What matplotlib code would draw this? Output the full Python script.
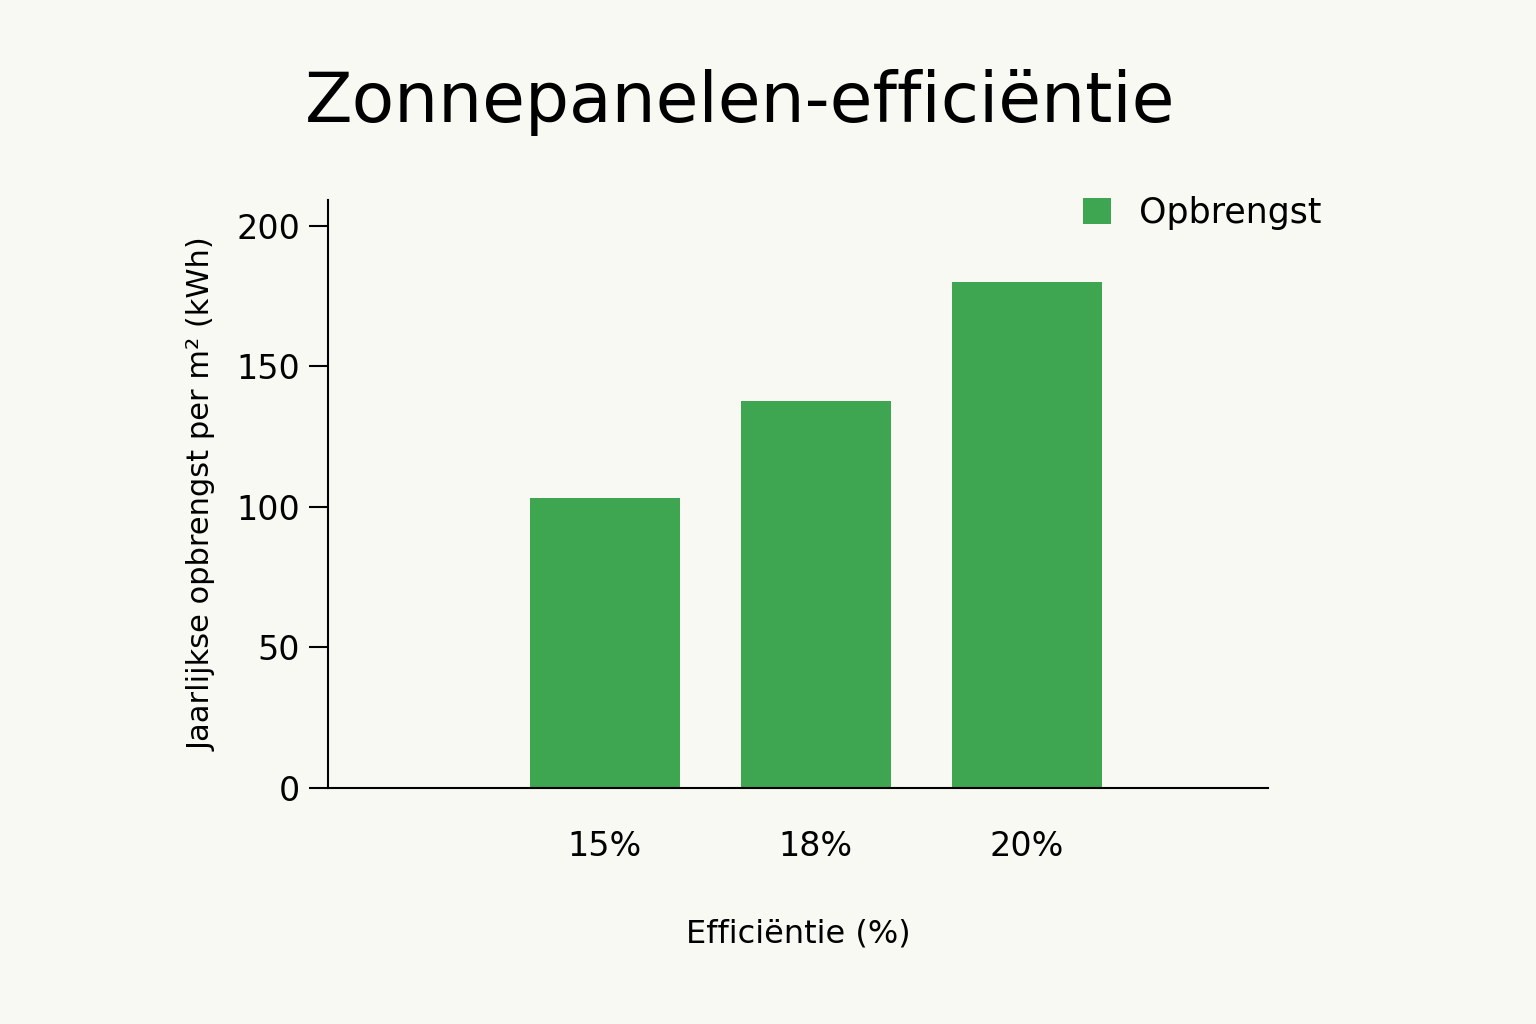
import matplotlib.pyplot as plt

categories = ["15%", "18%", "20%"]
values = [103, 137.5, 180]
series_name = "Opbrengst"
yticks = [0, 50, 100, 150, 200]

bg = "#f9f9f4"
green = "#3ea651"

fig = plt.figure(figsize=(15.36, 10.24), dpi=100, facecolor=bg)
ax = fig.add_axes([0.2135, 0.2305, 0.612, 0.574], facecolor=bg)

x = list(range(len(categories)))
ax.bar(x, values, width=0.71, color=green, label=series_name)

ax.set_xlim(-1.31, 3.14)
ax.set_ylim(0, 209)
ax.set_yticks(yticks)
ax.set_xticks(x)
ax.set_xticklabels(categories)
ax.tick_params(axis="y", labelsize=24, length=14, width=1.5, pad=6)
ax.tick_params(axis="x", labelsize=24, length=0, pad=30)
for side in ["top", "right"]:
    ax.spines[side].set_visible(False)
for side in ["left", "bottom"]:
    ax.spines[side].set_linewidth(1.5)

ax.set_xlabel("Efficiëntie (%)", fontsize=23, labelpad=40)
ax.set_ylabel("Jaarlijkse opbrengst per m² (kWh)", fontsize=22, labelpad=14)

fig.text(0.482, 0.9, "Zonnepanelen-efficiëntie", fontsize=50, ha="center", va="center")

ax.legend(loc="upper left", bbox_to_anchor=(0.77, 1.06), frameon=False,
          fontsize=25, handlelength=0.8, handleheight=0.8, handletextpad=0.8)

fig.savefig("out.png", facecolor=bg)
